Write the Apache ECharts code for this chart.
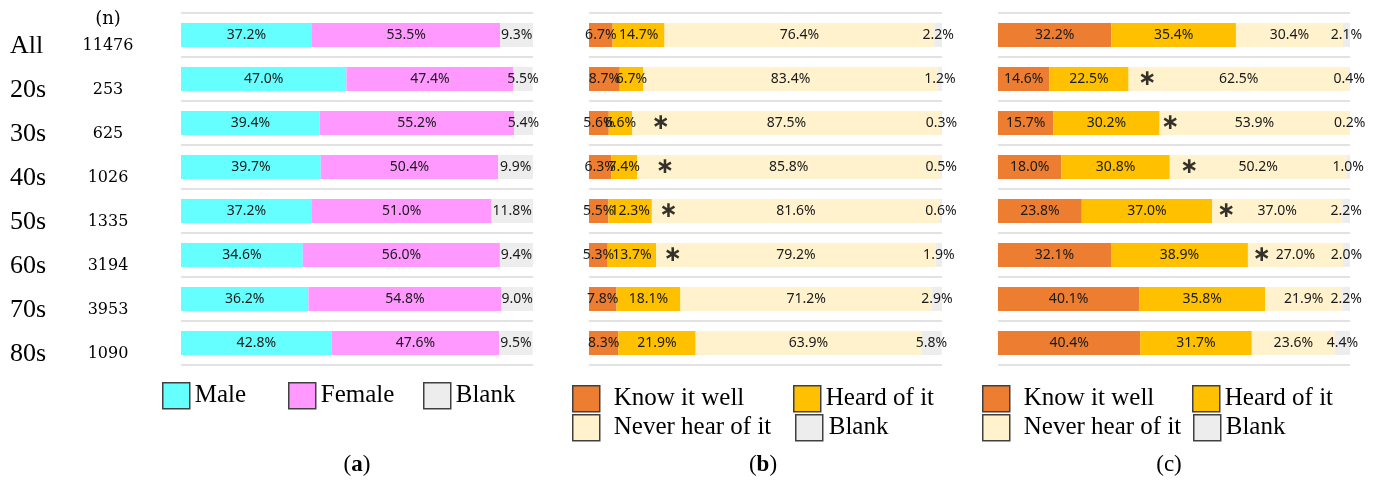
<!DOCTYPE html>
<html>
<head>
<meta charset="utf-8">
<script src="https://cdn.jsdelivr.net/npm/echarts@6/dist/echarts.min.js"></script>
<style>
  html, body { margin: 0; padding: 0; background: #fff; }
  #chart { width: 1378px; height: 484px; }
</style>
</head>
<body>
<div id="chart"></div>
<script>
// row labels and sample sizes
const ages = ['All', '20s', '30s', '40s', '50s', '60s', '70s', '80s'];
const counts = [11476, 253, 625, 1026, 1335, 3194, 3953, 1090];

// (a) gender
const male = [37.2, 47.0, 39.4, 39.7, 37.2, 34.6, 36.2, 42.8];
const female = [53.5, 47.4, 55.2, 50.4, 51.0, 56.0, 54.8, 47.6];
const blankA = [9.3, 5.5, 5.4, 9.9, 11.8, 9.4, 9.0, 9.5];

// (b)
const knowB = [6.7, 8.7, 5.6, 6.3, 5.5, 5.3, 7.8, 8.3];
const heardB = [14.7, 6.7, 6.6, 7.4, 12.3, 13.7, 18.1, 21.9];
const neverB = [76.4, 83.4, 87.5, 85.8, 81.6, 79.2, 71.2, 63.9];
const blankB = [2.2, 1.2, 0.3, 0.5, 0.6, 1.9, 2.9, 5.8];

// (c)
const knowC = [32.2, 14.6, 15.7, 18.0, 23.8, 32.1, 40.1, 40.4];
const heardC = [35.4, 22.5, 30.2, 30.8, 37.0, 38.9, 35.8, 31.7];
const neverC = [30.4, 62.5, 53.9, 50.2, 37.0, 27.0, 21.9, 23.6];
const blankC = [2.1, 0.4, 0.2, 1.0, 2.2, 2.0, 2.2, 4.4];

// asterisk marks (position on the % axis)
const starB = [null, null, 20.3, 21.5, 22.5, 23.7, null, null];
const starC = [null, 42.4, 48.9, 54.3, 64.8, 74.9, null, null];

const COLORS = {
  Male: '#66ffff',
  Female: '#ff99ff',
  Blank: '#ededed',
  'Know it well': '#ed7d31',
  'Heard of it': '#ffc000',
  'Never hear of it': '#fff2cc',
};

const grids = [
  { left: 181, top: 13, width: 352, height: 352 },
  { left: 589, top: 13, width: 353, height: 352 },
  { left: 998, top: 13, width: 352, height: 352 },
];

function barSeries(name, data, idx) {
  return {
    type: 'bar',
    name: name,
    stack: 'panel' + idx,
    xAxisIndex: idx,
    yAxisIndex: idx,
    data: data,
    barWidth: 24,
    itemStyle: { color: COLORS[name] },
    label: {
      show: true,
      position: 'inside',
      formatter: (p) => p.value.toFixed(1) + '%',
      color: '#1a1a1a',
      fontSize: 14,
      fontFamily: 'Noto Sans',
    },
    emphasis: { disabled: true },
  };
}

function starSeries(vals, idx) {
  const pts = [];
  vals.forEach((v, i) => {
    if (v != null) pts.push([v, ages[i]]);
  });
  return {
    type: 'scatter',
    xAxisIndex: idx,
    yAxisIndex: idx,
    data: pts,
    symbolSize: 1,
    itemStyle: { color: 'transparent' },
    label: {
      show: true,
      position: 'inside',
      formatter: '\u2217',
      color: '#000',
      fontSize: 22,
      fontWeight: 'bold',
      fontFamily: 'DejaVu Sans',
    },
    z: 5,
  };
}

function legendItem(name, left, top, gap) {
  return {
    data: [name],
    left: left,
    top: top,
    padding: 0,
    icon: 'rect',
    itemWidth: 27,
    itemHeight: 26,
    selectedMode: false,
    itemStyle: { borderColor: '#404040', borderWidth: 1.5 },
    textStyle: {
      fontFamily: 'Liberation Serif',
      fontSize: 25,
      color: '#000',
      padding: [0, 0, 0, gap],
    },
  };
}

const chart = echarts.init(document.getElementById('chart'));

const option = {
  backgroundColor: '#fff',
  animation: false,
  grid: grids,
  xAxis: grids.map((g, i) => ({
    type: 'value',
    gridIndex: i,
    min: 0,
    max: 100,
    show: false,
  })),
  yAxis: grids.map((g, i) => ({
    type: 'category',
    gridIndex: i,
    data: ages,
    inverse: true,
    axisLine: { show: false },
    axisTick: { show: false },
    splitLine: { show: true, lineStyle: { color: '#d9d9d9', width: 1.5 } },
    axisLabel: i === 0 ? {
      show: true,
      margin: 35,
      padding: [22, 0, 0, 0],
      formatter: (v, k) => '{age|' + v + '}{n|' + counts[k] + '}',
      rich: {
        age: { fontFamily: 'Liberation Serif', fontSize: 26, width: 60, align: 'left', color: '#000' },
        n: { fontFamily: 'DejaVu Serif', fontSize: 16, width: 76, align: 'center', color: '#000' },
      },
    } : { show: false },
  })),
  legend: [
    legendItem('Male', 162, 382, 0),
    legendItem('Female', 288, 382, 0),
    legendItem('Blank', 423, 382, 0),
    legendItem('Know it well', 572, 385, 9),
    legendItem('Heard of it', 793, 385, 0),
    legendItem('Never hear of it', 572, 414, 9),
    legendItem('Blank', 795, 414, 1),
    legendItem('Know it well', 982, 385, 9),
    legendItem('Heard of it', 1192, 385, 0),
    legendItem('Never hear of it', 982, 414, 9),
    legendItem('Blank', 1193, 414, 0),
  ],
  graphic: [
    {
      type: 'text', x: 108, y: 19,
      style: { text: '(n)', font: '18px "DejaVu Serif"', fill: '#000', align: 'center', verticalAlign: 'middle' },
    },
    {
      type: 'text', x: 357, y: 465,
      style: {
        text: '({b|a})', fill: '#000', align: 'center', verticalAlign: 'middle',
        font: '23px "Liberation Serif"',
        rich: { b: { fontFamily: 'Liberation Serif', fontSize: 23, fontWeight: 'bold' } },
      },
    },
    {
      type: 'text', x: 763, y: 465,
      style: {
        text: '({b|b})', fill: '#000', align: 'center', verticalAlign: 'middle',
        font: '23px "Liberation Serif"',
        rich: { b: { fontFamily: 'Liberation Serif', fontSize: 23, fontWeight: 'bold' } },
      },
    },
    {
      type: 'text', x: 1169, y: 465,
      style: { text: '(c)', font: '23px "Liberation Serif"', fill: '#000', align: 'center', verticalAlign: 'middle' },
    },
  ],
  series: [
    barSeries('Male', male, 0),
    barSeries('Female', female, 0),
    barSeries('Blank', blankA, 0),
    barSeries('Know it well', knowB, 1),
    barSeries('Heard of it', heardB, 1),
    barSeries('Never hear of it', neverB, 1),
    barSeries('Blank', blankB, 1),
    barSeries('Know it well', knowC, 2),
    barSeries('Heard of it', heardC, 2),
    barSeries('Never hear of it', neverC, 2),
    barSeries('Blank', blankC, 2),
    starSeries(starB, 1),
    starSeries(starC, 2),
  ],
};

chart.setOption(option);
</script>
</body>
</html>
